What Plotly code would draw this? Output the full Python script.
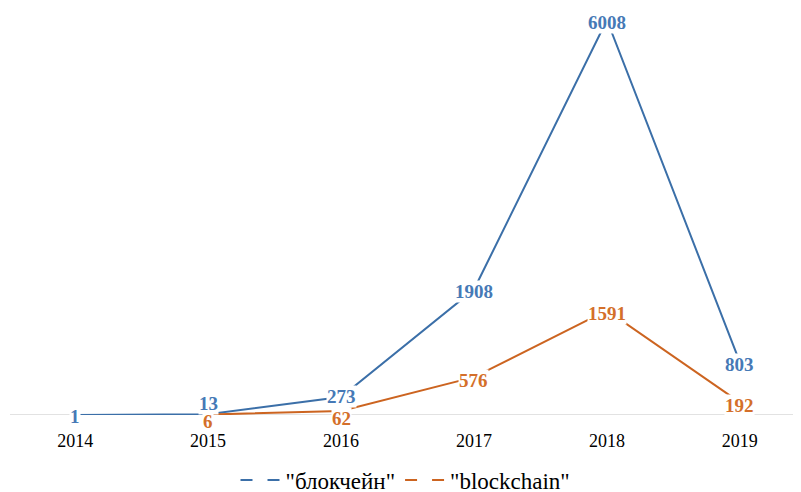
import plotly.graph_objects as go

years = ["2014", "2015", "2016", "2017", "2018", "2019"]
blokchein = [1, 13, 273, 1908, 6008, 803]
blockchain = [None, 6, 62, 576, 1591, 192]
name_ru = '"блокчейн"'
name_en = '"blockchain"'

# label vertical nudges (px) to avoid overlap, styling only
shift_ru = [-2, 11, 1, -2, -2, -2]
shift_en = [0, -7, -8, -3, -3, -3]

blue_line = "#3B6FA8"
blue_text = "#4679B6"
orange_line = "#CC6420"
orange_text = "#D46F2A"
serif = "Liberation Serif"

fig = go.Figure()
fig.add_trace(go.Scatter(x=years, y=blokchein, mode="lines", name=name_ru,
                         line=dict(color=blue_line, width=2), showlegend=False))
fig.add_trace(go.Scatter(x=years, y=blockchain, mode="lines", name=name_en,
                         line=dict(color=orange_line, width=2), showlegend=False))
# legend entries (dashed keys as in the reference)
fig.add_trace(go.Scatter(x=[None], y=[None], mode="lines", name=name_ru,
                         line=dict(color=blue_line, width=2, dash="12px,15px")))
fig.add_trace(go.Scatter(x=[None], y=[None], mode="lines", name=name_en,
                         line=dict(color=orange_line, width=2, dash="12px,15px")))

annotations = []
for i, (v, s) in enumerate(zip(blokchein, shift_ru)):
    if v is None:
        continue
    annotations.append(dict(x=i, y=v, xref="x", yref="y", text="<b>%d</b>" % v,
                            showarrow=False, bgcolor="white", yshift=s, borderpad=0,
                            font=dict(family=serif, size=19, color=blue_text)))
for i, (v, s) in enumerate(zip(blockchain, shift_en)):
    if v is None:
        continue
    annotations.append(dict(x=i, y=v, xref="x", yref="y", text="<b>%d</b>" % v,
                            showarrow=False, bgcolor="white", yshift=s, borderpad=0,
                            font=dict(family=serif, size=19, color=orange_text)))

# the page adds an 8px body margin, so the figure is sized to fit the window
fig.update_layout(
    template="none",
    width=793, height=484,
    margin=dict(l=2, r=0, t=12, b=77, autoexpand=False),
    paper_bgcolor="white", plot_bgcolor="white",
    font=dict(family=serif, color="black", size=18),
    annotations=annotations,
    legend=dict(orientation="h", x=0.5, xanchor="center", y=-0.165, yanchor="middle",
                font=dict(family=serif, size=23, color="black"),
                itemwidth=40, bgcolor="rgba(0,0,0,0)"),
    xaxis=dict(type="category", range=[-0.49, 5.46], showgrid=False,
               showline=False, zeroline=False, ticks="",
               tickfont=dict(family=serif, size=18, color="black"),
               ticklabelstandoff=13),
    yaxis=dict(range=[0, 6008], visible=False, showgrid=False, zeroline=False),
)
# baseline (x axis line at y=0) drawn below the labels
fig.add_shape(type="line", xref="paper", x0=0, x1=1, yref="y", y0=0, y1=0,
              line=dict(color="#D9D9D9", width=1.5), layer="below")

fig.write_html("out.html")
